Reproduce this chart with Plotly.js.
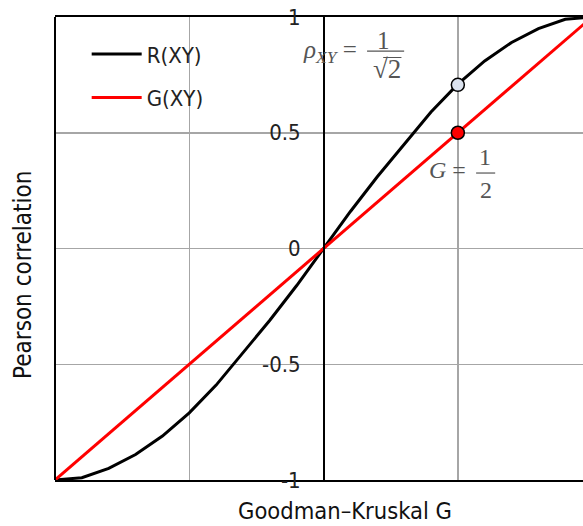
<!DOCTYPE html>
<html><head><meta charset="utf-8">
<script src="https://cdn.plot.ly/plotly-3.0.1.min.js"></script>
<style>html,body{margin:0;padding:0;background:#fff}</style>
</head><body>
<div id="chart" style="width:583px;height:526px"></div>
<script>
// Goodman–Kruskal G values
const G = [-1, -0.9, -0.8, -0.7, -0.6, -0.5, -0.4, -0.3, -0.2, -0.1, 0, 0.1, 0.2, 0.3, 0.4, 0.5, 0.6, 0.7, 0.8, 0.9, 1];
// Pearson correlation R(XY)
const R = [-1, -0.99, -0.95, -0.89, -0.81, -0.71, -0.59, -0.45, -0.31, -0.16, 0, 0.16, 0.31, 0.45, 0.59, 0.71, 0.81, 0.89, 0.95, 0.99, 1];
// G(XY) line
const GY = [-1, -0.9, -0.8, -0.7, -0.6, -0.5, -0.4, -0.3, -0.2, -0.1, 0, 0.1, 0.2, 0.3, 0.4, 0.5, 0.6, 0.7, 0.8, 0.9, 1];
// highlighted points
const ptX = [0.5];
const ptR = [0.707];
const ptG = [0.5];
const yTickVals = [1, 0.5, 0, -0.5, -1];
const yTickText = ["1", "0.5", "0", "-0.5", "-1"];

const narrow = '"DejaVu Sans Condensed", "Liberation Sans Narrow", sans-serif';
const serif = '"Liberation Serif", "Times New Roman", serif';

const traces = [
  {x: G, y: R, mode: 'lines', name: 'R(XY)', line: {color: '#000', width: 3}, legendgroup: 'a'},
  {x: G, y: GY, mode: 'lines', name: 'G(XY)', line: {color: '#ff0000', width: 3}, legendgroup: 'b'},
  {x: ptX, y: ptR, mode: 'markers', showlegend: false, marker: {size: 13, color: '#dce3ef', line: {color: '#000', width: 1.5}}},
  {x: ptX, y: ptG, mode: 'markers', showlegend: false, marker: {size: 13, color: '#ff0000', line: {color: '#000', width: 1.5}}}
];

const layout = {
  width: 583, height: 526,
  margin: {l: 55, r: 0, t: 17, b: 46},
  paper_bgcolor: '#fff', plot_bgcolor: '#fff',
  showlegend: true,
  legend: {x: 0.06, y: 0.965, xanchor: 'left', yanchor: 'top', bgcolor: 'rgba(0,0,0,0)',
           font: {family: narrow, size: 22, color: '#222'}, tracegroupgap: 12, itemwidth: 50},
  xaxis: {range: [-1, 0.966], tickvals: [-1, -0.5, 0, 0.5], showticklabels: false, ticks: '',
          showgrid: true, gridcolor: '#a6a6a6', gridwidth: 1.5, zeroline: false,
          showline: true, mirror: true, linecolor: '#000', linewidth: 2},
  yaxis: {range: [-1, 1], tickvals: yTickVals, ticktext: yTickText, ticks: '',
          anchor: 'free', position: 0.5095, side: 'left',
          showgrid: true, gridcolor: '#a6a6a6', gridwidth: 1.5, zeroline: false,
          showline: true, linecolor: '#000', linewidth: 2,
          tickfont: {family: narrow, size: 22, color: '#222'}, ticklabelstandoff: 18},
  shapes: [
    {type: 'line', xref: 'paper', yref: 'paper', x0: 0, x1: 0, y0: 0, y1: 1, line: {color: '#000', width: 2}},
    {type: 'line', xref: 'x', yref: 'y', x0: 0.162, x1: 0.300, y0: 0.853, y1: 0.853, line: {color: '#555', width: 1.2}},
    {type: 'line', xref: 'x', yref: 'y', x0: 0.222, x1: 0.290, y0: 0.825, y1: 0.825, line: {color: '#555', width: 1}},
    {type: 'line', xref: 'x', yref: 'y', x0: 0.568, x1: 0.639, y0: 0.326, y1: 0.326, line: {color: '#555', width: 1.2}}
  ],
  annotations: [
    {xref: 'paper', yref: 'paper', x: 0.549, y: -0.067, xanchor: 'center', yanchor: 'middle', showarrow: false,
     text: 'Goodman–Kruskal G', font: {family: narrow, size: 23.5, color: '#111'}},
    {xref: 'paper', yref: 'paper', x: -0.0606, y: 0.443, xanchor: 'center', yanchor: 'middle', textangle: -90, showarrow: false,
     text: 'Pearson correlation', font: {family: narrow, size: 24, color: '#111'}},
    {x: 0.1318, y: 0.85, xanchor: 'right', yanchor: 'middle', showarrow: false,
     text: '<i>ρ</i><sub><i>XY</i></sub> =', font: {family: serif, size: 25, color: '#555'}},
    {x: 0.225, y: 0.90, showarrow: false, text: '1', font: {family: serif, size: 25, color: '#555'}},
    {x: 0.236, y: 0.775, showarrow: false, text: '√2', font: {family: serif, size: 27, color: '#555'}},
    {x: 0.538, y: 0.339, xanchor: 'right', showarrow: false,
     text: '<i>G</i> =', font: {family: serif, size: 24, color: '#555'}},
    {x: 0.6015, y: 0.395, showarrow: false, text: '1', font: {family: serif, size: 24, color: '#555'}},
    {x: 0.605, y: 0.253, showarrow: false, text: '2', font: {family: serif, size: 24, color: '#555'}}
  ]
};

Plotly.newPlot('chart', traces, layout, {displayModeBar: false, staticPlot: true});
</script>
</body></html>
